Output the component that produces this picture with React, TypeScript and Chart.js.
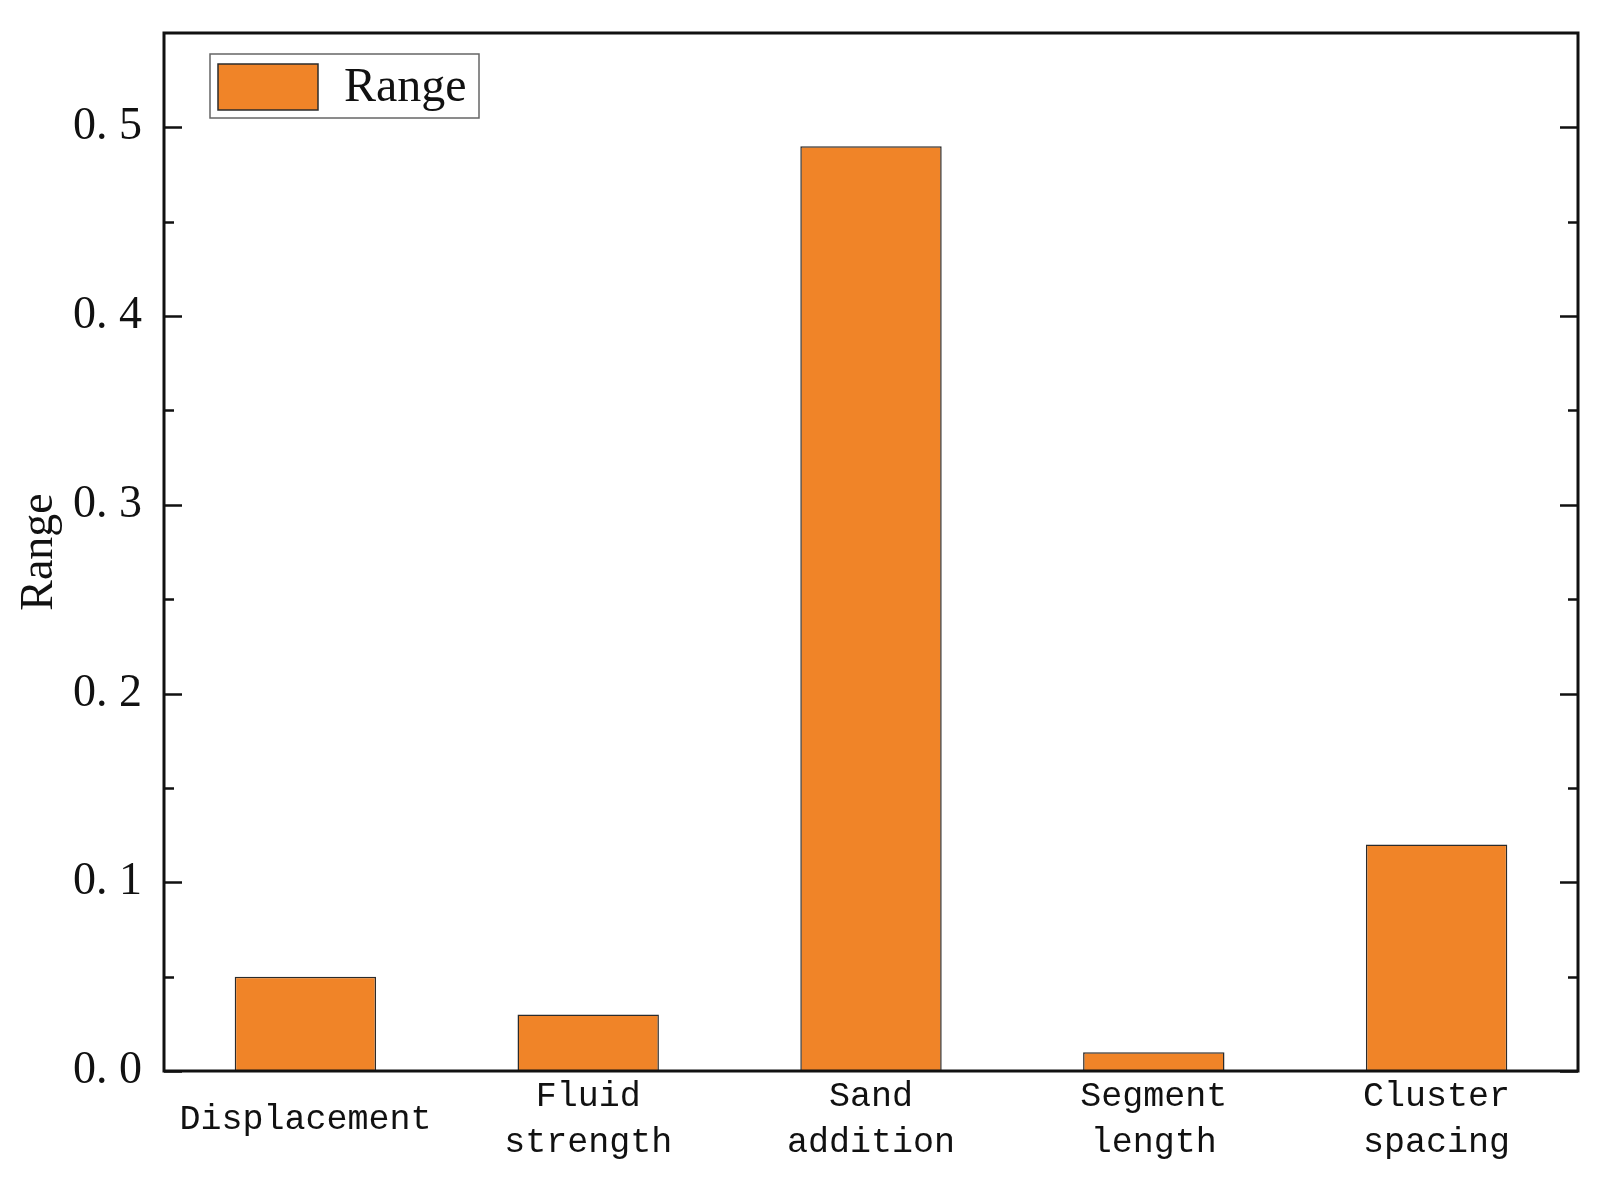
import React, { useEffect, useRef } from "react";
import { Chart, registerables } from "chart.js";

Chart.register(...registerables);

const categories: (string | string[])[] = [
  "Displacement",
  ["Fluid", "strength"],
  ["Sand", "addition"],
  ["Segment", "length"],
  ["Cluster", "spacing"],
];
const rangeValues: number[] = [0.05, 0.03, 0.49, 0.01, 0.12];
const seriesLabel = "Range";
const yTitle = "Range";

const BAR_COLOR = "#F08428";
const EDGE = "#2b2b2b";

const framePlugin = {
  id: "framePlugin",
  afterDraw(chart: any) {
    const { ctx, chartArea } = chart;
    const y = chart.scales.y;
    const { left, right, top, bottom } = chartArea;
    ctx.save();
    ctx.strokeStyle = "#111";
    ctx.lineWidth = 2.5;
    ctx.lineCap = "butt";
    const ticks = y.ticks.map((t: any) => t.value);
    const step = ticks.length > 1 ? ticks[1] - ticks[0] : 0.1;
    ctx.beginPath();
    ticks.forEach((v: number) => {
      const py = Math.round(y.getPixelForValue(v)) + 0.5;
      ctx.moveTo(left, py);
      ctx.lineTo(left + 18, py);
      ctx.moveTo(right, py);
      ctx.lineTo(right - 18, py);
      const mv = v + step / 2;
      if (mv < y.max - 1e-9) {
        const pm = Math.round(y.getPixelForValue(mv)) + 0.5;
        ctx.moveTo(left, pm);
        ctx.lineTo(left + 10, pm);
        ctx.moveTo(right, pm);
        ctx.lineTo(right - 10, pm);
      }
    });
    ctx.stroke();
    ctx.lineWidth = 3;
    ctx.strokeRect(left, top, right - left, bottom - top);

    // legend inside plot
    const ds = chart.data.datasets[0];
    const bx = 210, by = 54, bw = 269, bh = 64;
    ctx.fillStyle = "#fff";
    ctx.fillRect(bx, by, bw, bh);
    ctx.strokeStyle = "#666";
    ctx.lineWidth = 1.5;
    ctx.strokeRect(bx, by, bw, bh);
    ctx.fillStyle = ds.backgroundColor;
    ctx.fillRect(218, 64, 100, 46);
    ctx.strokeStyle = EDGE;
    ctx.lineWidth = 1.5;
    ctx.strokeRect(218, 64, 100, 46);
    ctx.fillStyle = "#111";
    ctx.font = "48px 'Liberation Serif'";
    ctx.textBaseline = "middle";
    ctx.textAlign = "left";
    ctx.fillText(ds.label, 344, 88);
    ctx.restore();
  },
};

export default function App() {
  const ref = useRef<HTMLCanvasElement | null>(null);
  useEffect(() => {
    if (!ref.current) return;
    const chart = new Chart(ref.current, {
      type: "bar",
      data: {
        labels: categories,
        datasets: [
          {
            label: seriesLabel,
            data: rangeValues,
            backgroundColor: BAR_COLOR,
            borderColor: EDGE,
            borderWidth: 1.5,
            barPercentage: 0.5,
            categoryPercentage: 1,
          },
        ],
      },
      options: {
        animation: false,
        responsive: false,
        layout: { padding: { left: 0, right: 34, top: 33, bottom: 0 } },
        plugins: { legend: { display: false }, tooltip: { enabled: false } },
        scales: {
          x: {
            grid: { display: false, drawTicks: false },
            border: { display: false },
            ticks: {
              color: "#111",
              font: { family: "'Liberation Mono'", size: 35, lineHeight: 1.3 },
              padding: 26,
              crossAlign: "center",
              maxRotation: 0,
              autoSkip: false,
            },
            afterFit: (s: any) => {
              s.height = 116;
              s.paddingLeft = 0;
              s.paddingRight = 0;
            },
          },
          y: {
            min: 0,
            max: 0.55,
            grid: { display: false, drawTicks: false },
            border: { display: false },
            ticks: {
              stepSize: 0.1,
              includeBounds: false,
              color: "#111",
              padding: 22,
              font: { family: "'Liberation Serif'", size: 46 },
              callback: (v: any) => Number(v).toFixed(1).replace(".", ". "),
            },
            title: {
              display: true,
              text: yTitle,
              color: "#111",
              font: { family: "'Liberation Serif'", size: 46 },
              padding: { top: 12, bottom: 0 },
            },
            afterFit: (s: any) => {
              s.width = 164;
              s.paddingTop = 0;
              s.paddingBottom = 0;
            },
          },
        },
      },
      plugins: [framePlugin],
    });
    return () => chart.destroy();
  }, []);
  return (
    <div style={{ position: "fixed", left: 0, top: 0, width: 1612, height: 1187, background: "#fff" }}>
      <canvas ref={ref} width={1612} height={1187} style={{ display: "block" }} />
    </div>
  );
}
